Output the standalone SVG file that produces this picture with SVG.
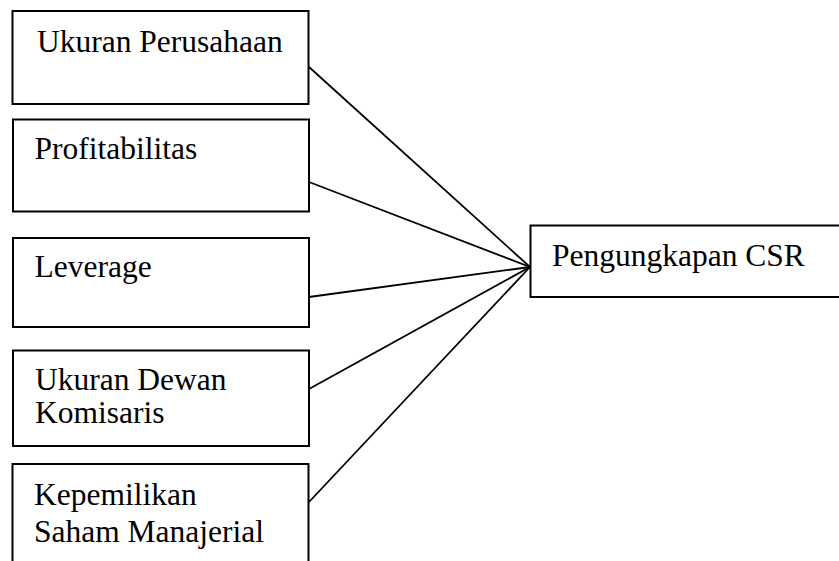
<svg xmlns="http://www.w3.org/2000/svg" width="839" height="561" viewBox="0 0 839 561">
<style>
.box{fill:#fff;stroke:#000;stroke-width:2}
.t{font-family:"Liberation Serif","Times New Roman",serif;font-size:31.5px;fill:#000}
.c{stroke:#000;stroke-width:1.8;fill:none}
</style>
<rect width="839" height="561" fill="#fff"/>
<g id="connectors">
<line class="c" x1="309" y1="67" x2="530" y2="267"/>
<line class="c" x1="309" y1="182" x2="530" y2="267"/>
<line class="c" x1="309" y1="297" x2="530" y2="267"/>
<line class="c" x1="309" y1="389" x2="530" y2="267"/>
<line class="c" x1="309" y1="502" x2="530" y2="267"/>
</g>
<g id="ukuran-perusahaan">
<rect class="box" x="12.5" y="11" width="296" height="93"/>
<text class="t" x="37" y="52">Ukuran Perusahaan</text>
</g>
<g id="profitabilitas">
<rect class="box" x="13" y="119.5" width="296" height="92"/>
<text class="t" x="34.5" y="159">Profitabilitas</text>
</g>
<g id="leverage">
<rect class="box" x="13" y="238" width="296" height="89"/>
<text class="t" x="34.5" y="277">Leverage</text>
</g>
<g id="ukuran-dewan-komisaris">
<rect class="box" x="13" y="350.5" width="296" height="95.5"/>
<text class="t" x="35" y="390">Ukuran Dewan</text>
<text class="t" x="35" y="423">Komisaris</text>
</g>
<g id="kepemilikan-saham-manajerial">
<rect class="box" x="12.5" y="464" width="296" height="110"/>
<text class="t" x="34" y="505">Kepemilikan</text>
<text class="t" x="34" y="541.5">Saham Manajerial</text>
</g>
<g id="pengungkapan-csr">
<rect class="box" x="530.5" y="225.5" width="320" height="71.5"/>
<text class="t" x="552" y="266">Pengungkapan CSR</text>
</g>
</svg>
